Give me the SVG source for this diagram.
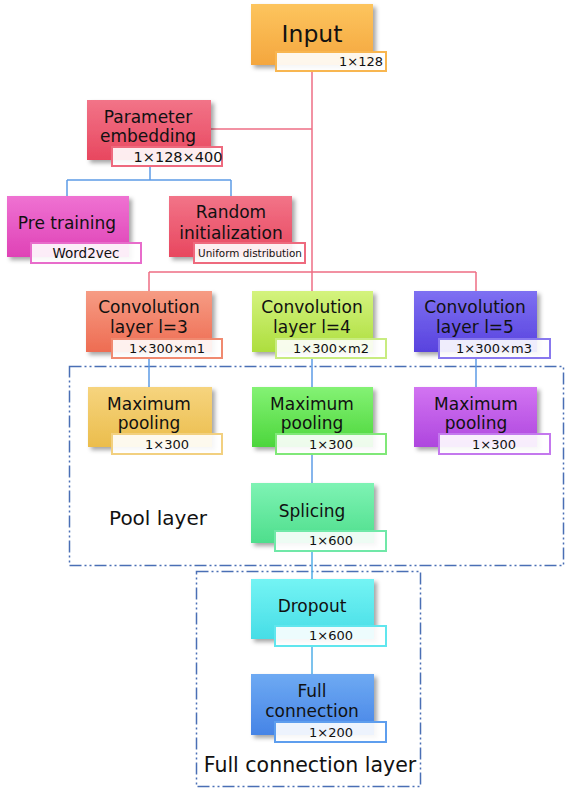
<svg xmlns="http://www.w3.org/2000/svg" width="566" height="788" viewBox="0 0 566 788">
<style>
.box{filter:url(#sh);}
.lbl{fill:#ffffff;fill-opacity:0.9;stroke-width:2;}
.t{font-family:"DejaVu Sans","Verdana",sans-serif;font-size:17px;fill:#111;text-anchor:middle;}
.s{font-family:"DejaVu Sans","Verdana",sans-serif;font-size:13px;fill:#111;text-anchor:middle;}
.pk{stroke:#EE6E84;stroke-width:1.5;fill:none;}
.bl{stroke:#5E9CE6;stroke-width:1.5;fill:none;}
.cy{stroke:#52AEE8;stroke-width:1.5;fill:none;}
.grp{fill:none;stroke:#4A6FB5;stroke-width:1.5;stroke-dasharray:12 3 2 3 2 3;}
</style>
<defs>
<filter id="sh" x="-10%" y="-10%" width="130%" height="130%"><feDropShadow dx="3" dy="3" stdDeviation="2" flood-color="#000" flood-opacity="0.35"/></filter>
<linearGradient id="gIn" x1="0" y1="0" x2="0" y2="1"><stop offset="0" stop-color="#FDC55E"/><stop offset="1" stop-color="#F4A63E"/></linearGradient>
<linearGradient id="gPe" x1="0" y1="0" x2="0" y2="1"><stop offset="0" stop-color="#F27488"/><stop offset="1" stop-color="#E8475F"/></linearGradient>
<linearGradient id="gPt" x1="0" y1="0" x2="0" y2="1"><stop offset="0" stop-color="#EF72D2"/><stop offset="1" stop-color="#DF42B6"/></linearGradient>
<linearGradient id="gRi" x1="0" y1="0" x2="0" y2="1"><stop offset="0" stop-color="#F27488"/><stop offset="1" stop-color="#E8475F"/></linearGradient>
<linearGradient id="gC1" x1="0" y1="0" x2="0" y2="1"><stop offset="0" stop-color="#F69C84"/><stop offset="1" stop-color="#EE6C52"/></linearGradient>
<linearGradient id="gC2" x1="0" y1="0" x2="0" y2="1"><stop offset="0" stop-color="#D4F37E"/><stop offset="1" stop-color="#ADDE3E"/></linearGradient>
<linearGradient id="gC3" x1="0" y1="0" x2="0" y2="1"><stop offset="0" stop-color="#7E70F2"/><stop offset="1" stop-color="#5842DE"/></linearGradient>
<linearGradient id="gM1" x1="0" y1="0" x2="0" y2="1"><stop offset="0" stop-color="#F6D47E"/><stop offset="1" stop-color="#EBBD4C"/></linearGradient>
<linearGradient id="gM2" x1="0" y1="0" x2="0" y2="1"><stop offset="0" stop-color="#84F274"/><stop offset="1" stop-color="#4CD63C"/></linearGradient>
<linearGradient id="gM3" x1="0" y1="0" x2="0" y2="1"><stop offset="0" stop-color="#D274F2"/><stop offset="1" stop-color="#AE46DE"/></linearGradient>
<linearGradient id="gSp" x1="0" y1="0" x2="0" y2="1"><stop offset="0" stop-color="#7EF3B4"/><stop offset="1" stop-color="#4EDE8C"/></linearGradient>
<linearGradient id="gDr" x1="0" y1="0" x2="0" y2="1"><stop offset="0" stop-color="#74F4F4"/><stop offset="1" stop-color="#46DDE6"/></linearGradient>
<linearGradient id="gFc" x1="0" y1="0" x2="0" y2="1"><stop offset="0" stop-color="#6EAAF3"/><stop offset="1" stop-color="#4684E6"/></linearGradient>
</defs>

<g id="groups">
<rect class="grp" x="69.5" y="366.5" width="494" height="199"/>
<rect class="grp" x="196.5" y="571.5" width="224" height="215"/>
<text class="t" x="158" y="525" style="font-size:20px">Pool layer</text>
<text class="t" x="310" y="772" style="font-size:20.5px">Full connection layer</text>
</g>

<g id="connectors">
<path class="pk" d="M312 71 V291"/>
<path class="pk" d="M211 129 H312"/>
<path class="pk" d="M149 272 H476 M149 272 V291 M476 272 V291"/>
<path class="bl" d="M150 166 V180 M67 180 H231 M67 180 V196 M231 180 V196"/>
<path class="bl" d="M149 358 V387 M312 358 V387 M476 358 V387"/>
<path class="bl" d="M312 455 V483"/>
<path class="cy" d="M312 551 V579 M312 647 V674"/>
</g>

<g id="input">
<rect class="box" x="251" y="4" width="122" height="61" fill="url(#gIn)"/>
<text class="t" x="312" y="42" style="font-size:23.5px">Input</text>
<rect class="lbl" x="276" y="52" width="110" height="19" stroke="#F8B650"/>
<text class="s" x="361" y="66">1×128</text>
</g>

<g id="param-embedding">
<rect class="box" x="87" y="100" width="124" height="60" fill="url(#gPe)"/>
<text class="t" x="148" y="123">Parameter</text>
<text class="t" x="148" y="142">embedding</text>
<rect class="lbl" x="112" y="147" width="110" height="19" stroke="#EE6A7E"/>
<text class="s" x="178" y="162" style="font-size:14.5px">1×128×400</text>
</g>

<g id="pre-training">
<rect class="box" x="7" y="196" width="122" height="61" fill="url(#gPt)"/>
<text class="t" x="67" y="229">Pre training</text>
<rect class="lbl" x="31" y="243" width="110" height="20" stroke="#E86CCB"/>
<text class="s" x="86" y="258" style="font-size:13.5px">Word2vec</text>
</g>

<g id="random-init">
<rect class="box" x="169" y="196" width="123" height="61" fill="url(#gRi)"/>
<text class="t" x="231" y="218">Random</text>
<text class="t" x="231" y="239">initialization</text>
<rect class="lbl" x="194" y="243" width="111" height="20" stroke="#EE6A7E"/>
<text class="s" x="250" y="257" style="font-size:10.4px">Uniform distribution</text>
</g>

<g id="conv3">
<rect class="box" x="86" y="291" width="126" height="61" fill="url(#gC1)"/>
<text class="t" x="149" y="313">Convolution</text>
<text class="t" x="149" y="333">layer l=3</text>
<rect class="lbl" x="112" y="339" width="110" height="19" stroke="#F08A70"/>
<text class="s" x="167" y="353">1×300×m1</text>
</g>

<g id="conv4">
<rect class="box" x="252" y="291" width="121" height="61" fill="url(#gC2)"/>
<text class="t" x="312" y="313">Convolution</text>
<text class="t" x="312" y="333">layer l=4</text>
<rect class="lbl" x="276" y="339" width="110" height="19" stroke="#C8EC80"/>
<text class="s" x="331" y="353">1×300×m2</text>
</g>

<g id="conv5">
<rect class="box" x="414" y="291" width="123" height="61" fill="url(#gC3)"/>
<text class="t" x="475" y="313">Convolution</text>
<text class="t" x="475" y="333">layer l=5</text>
<rect class="lbl" x="439" y="339" width="111" height="19" stroke="#8878EE"/>
<text class="s" x="494" y="353">1×300×m3</text>
</g>

<g id="maxpool1">
<rect class="box" x="88" y="387" width="124" height="60" fill="url(#gM1)"/>
<text class="t" x="149" y="410">Maximum</text>
<text class="t" x="149" y="429">pooling</text>
<rect class="lbl" x="112" y="434" width="110" height="20" stroke="#F2D080"/>
<text class="s" x="167" y="449">1×300</text>
</g>

<g id="maxpool2">
<rect class="box" x="252" y="387" width="121" height="60" fill="url(#gM2)"/>
<text class="t" x="312" y="410">Maximum</text>
<text class="t" x="312" y="429">pooling</text>
<rect class="lbl" x="276" y="434" width="110" height="20" stroke="#80E878"/>
<text class="s" x="331" y="449">1×300</text>
</g>

<g id="maxpool3">
<rect class="box" x="414" y="387" width="123" height="60" fill="url(#gM3)"/>
<text class="t" x="476" y="410">Maximum</text>
<text class="t" x="476" y="429">pooling</text>
<rect class="lbl" x="439" y="434" width="111" height="20" stroke="#C478EE"/>
<text class="s" x="494" y="449">1×300</text>
</g>

<g id="splicing">
<rect class="box" x="251" y="483" width="123" height="60" fill="url(#gSp)"/>
<text class="t" x="312" y="517">Splicing</text>
<rect class="lbl" x="275" y="531" width="111" height="20" stroke="#70E8A8"/>
<text class="s" x="331" y="545">1×600</text>
</g>

<g id="dropout">
<rect class="box" x="251" y="579" width="123" height="60" fill="url(#gDr)"/>
<text class="t" x="312" y="612">Dropout</text>
<rect class="lbl" x="275" y="626" width="111" height="20" stroke="#60E6EE"/>
<text class="s" x="331" y="640">1×600</text>
</g>

<g id="full-connection">
<rect class="box" x="251" y="674" width="123" height="61" fill="url(#gFc)"/>
<text class="t" x="312" y="697">Full</text>
<text class="t" x="312" y="717">connection</text>
<rect class="lbl" x="275" y="722" width="111" height="20" stroke="#5E9EEE"/>
<text class="s" x="331" y="737">1×200</text>
</g>
</svg>
